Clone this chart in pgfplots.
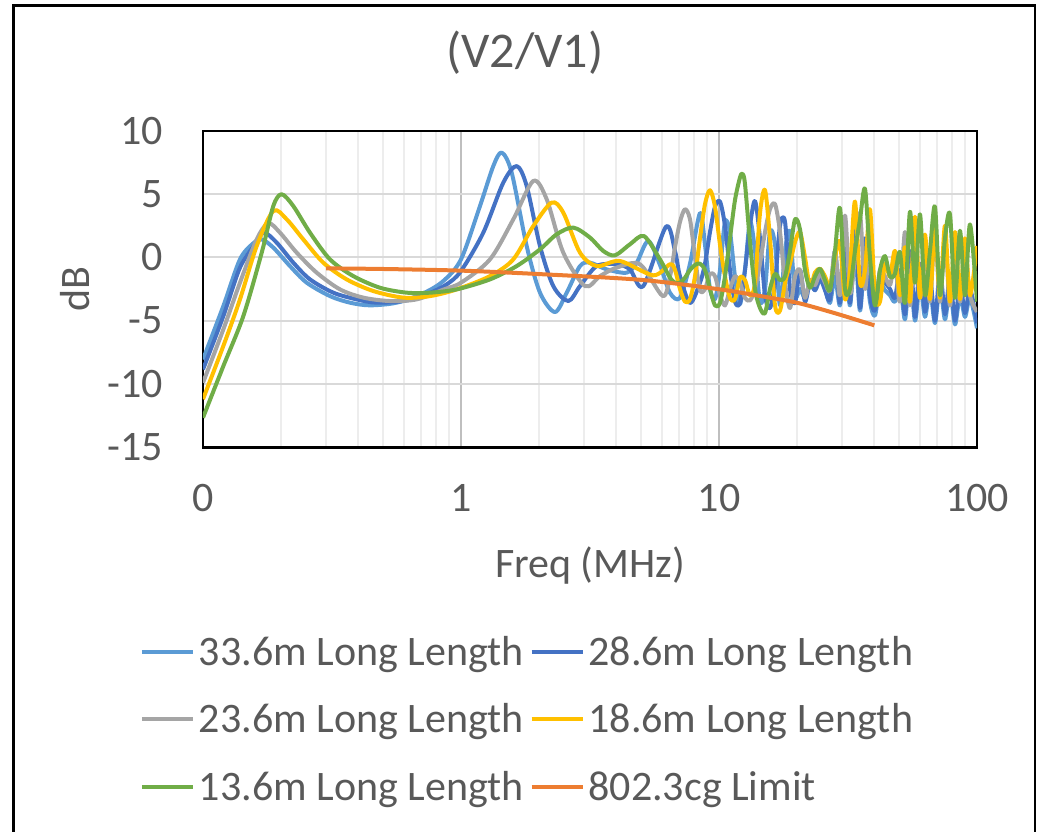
\documentclass[border=0pt]{standalone}
\usepackage{fontspec}
\setmainfont{Carlito}
\usepackage{pgfplots}
\pgfplotsset{compat=1.18}
\definecolor{txtgray}{HTML}{595959}
\definecolor{cA}{HTML}{5B9BD5}
\definecolor{cB}{HTML}{4472C4}
\definecolor{cC}{HTML}{A5A5A5}
\definecolor{cD}{HTML}{FFC000}
\definecolor{cE}{HTML}{70AD47}
\definecolor{cF}{HTML}{ED7D31}
\definecolor{gridmajx}{HTML}{BFBFBF}
\definecolor{gridmajy}{HTML}{D9D9D9}
\definecolor{gridmin}{HTML}{EDEDED}
\begin{document}
\begin{tikzpicture}
\useasboundingbox (0pt,0pt) rectangle (520pt,415.5pt);
\draw[line width=1.2pt] (6.75pt,-5pt) -- (6.75pt,412.75pt) -- (517.5pt,412.75pt) -- (517.5pt,-5pt);
\begin{axis}[
  at={(101.5pt,191.85pt)}, anchor=south west,
  scale only axis, width=387pt, height=158.3pt,
  xmode=log, xmin=0.1, xmax=100, ymin=-15, ymax=10,
  xtick={0.1,1,10,100}, xticklabels={0,1,10,100},
  ytick={-15,-10,-5,0,5,10}, yticklabels={-15,-10,-5,0,5,10},
  xmajorgrids, xminorgrids, ymajorgrids,
  major x grid style={gridmajx, line width=1pt},
  minor x grid style={gridmin, line width=1pt},
  major y grid style={gridmajy, line width=1pt},
  axis line style={black, line width=1.2pt},
  major tick length=0pt, minor tick length=0pt,
  tick label style={font=\fontsize{21}{25}\selectfont, text=txtgray},
  xticklabel style={inner sep=0pt, anchor=north, yshift=-18.5pt},
  yticklabel style={inner sep=0pt, anchor=east, xshift=-20pt},
  xlabel={Freq (MHz)}, ylabel={dB},
  label style={font=\fontsize{21}{25}\selectfont, text=txtgray},
  xlabel style={at={(axis description cs:0.5,-0.3727)}, anchor=center},
  ylabel style={at={(axis description cs:-0.1654,0.5)}, anchor=center},
  title={(V2/V1)},
  title style={at={(axis description cs:0.416,1.2075)}, anchor=center, font=\fontsize{25}{30}\selectfont, text=txtgray},
  legend columns=2,
  legend cell align=left,
  legend style={at={(axis description cs:-0.0814,-0.5866)}, anchor=north west, draw=none, fill=none,
    inner sep=0pt, outer sep=0pt, font=\fontsize{21}{25}\selectfont, text=txtgray,
    row sep=14.95pt,
    nodes={inner sep=0pt, text height=16pt, text depth=2.8pt},
    /tikz/every odd column/.style={column sep=2pt},
    /tikz/every even column/.style={column sep=3pt}},
  legend image code/.code={\draw[#1, line width=2pt] (0pt,0pt) -- (25.5pt,0pt);},
  every axis plot/.append style={line width=2pt, line join=round, mark=none, smooth},
]
\addplot[cA] coordinates {(0.1,-8.06) (0.1199,-3.85) (0.1391,-0.16) (0.1567,1.11) (0.1689,1.42) (0.1873,0.77) (0.2174,-0.69) (0.2523,-2.0) (0.3106,-3.06) (0.3714,-3.58) (0.4439,-3.79) (0.563,-3.58) (0.7142,-2.84) (0.8539,-1.87) (1.0,-0.16) (1.1846,4.05) (1.3344,7.21) (1.4381,8.27) (1.5722,6.69) (1.7974,0.89) (2.024,-2.79) (2.3136,-4.32) (2.5683,-2.79) (2.8925,-0.69) (3.1623,-0.42) (3.6708,-0.95) (4.3865,-1.21) (4.7974,-0.42) (5.3213,1.29) (5.9046,-0.6) (6.4571,-2.8) (7.0616,-3.2) (7.7206,-0.5)
(8.44,3.5) (8.825,1.0) (9.229,-2.5) (9.65,-3.3) (10.09,-1.0) (10.55,2.8) (11.03,2.0) (11.53,-1.5) (12.06,-3.7) (12.61,-1.0) (13.19,2.8) (13.79,0.5) (14.42,-3.5) (15.08,-2.5) (15.76,2.0) (16.49,1.0) (17.24,-3.8) (18.03,0.5) (18.85,2.0) (19.71,-3.0) (20.61,-2.5) (21.54,-3.2) (22.53,-2.0) (23.56,-2.6) (24.63,-1.8) (25.76,-2.5) (26.93,-3.6) (28.16,-1.5) (29.44,-3.8) (30.79,0.0) (32.19,-3.8) (33.66,0.5) (35.2,-4.2) (36.81,0.0) (38.48,-3.5) (40.24,-4.6) (42.07,-2.2) (43.99,-2.6) (46.0,-3.0) (48.1,-3.5) (50.29,-2.0) (52.59,-4.9) (54.99,-1.2) (57.5,-5.0) (60.12,-2.0) (62.86,-4.7) (65.73,-2.5) (68.73,-5.2) (71.87,-2.2) (75.15,-4.9) (78.58,-2.5) (82.16,-5.3) (85.91,-3.0) (89.83,-4.7) (93.95,-3.2) (100,-5.6)};
\addlegendentry{33.6m Long Length}
\addplot[cB] coordinates {(0.1,-8.85) (0.1199,-4.64) (0.1391,-0.81) (0.1591,1.03) (0.1724,1.95) (0.1931,1.16) (0.2239,-0.42) (0.2598,-1.74) (0.32,-2.79) (0.3942,-3.32) (0.4712,-3.58) (0.5975,-3.45) (0.7363,-2.92) (0.8804,-2.13) (1.0,-1.08) (1.2201,1.95) (1.4588,5.9) (1.644,7.21) (1.7974,5.63) (2.024,0.89) (2.279,-2.27) (2.6054,-3.45) (2.8925,-2.27) (3.3573,-0.69) (4.0132,-0.55) (4.5186,-0.95) (5.0884,-2.27) (6.2325,2.42) (6.7528,0.5) (7.0616,-1.5) (7.7206,-3.6)
(8.44,-2.0) (8.825,-0.5) (9.229,2.0) (9.65,4.0) (10.09,4.4) (10.55,2.5) (11.03,-1.0) (11.53,-3.5) (12.06,-3.6) (12.61,-1.0) (13.19,2.5) (13.79,4.45) (14.42,1.5) (15.08,-3.0) (15.76,-4.0) (16.49,-2.0) (17.24,2.5) (18.03,2.8) (18.85,-2.5) (19.71,-3.6) (20.61,-1.0) (21.54,-3.5) (22.53,-2.0) (23.56,-2.6) (24.63,-1.6) (25.76,-2.6) (26.93,-3.3) (28.16,0.5) (29.44,-3.6) (30.79,2.0) (32.19,-3.6) (33.66,2.5) (35.2,-4.0) (36.81,1.5) (38.48,-3.0) (40.24,-4.2) (42.07,-1.5) (43.99,-2.0) (46.0,-2.5) (48.1,-3.2) (50.29,-1.0) (52.59,-4.5) (54.99,0.5) (57.5,-4.7) (60.12,-0.5) (62.86,-4.3) (65.73,-1.5) (68.73,-5.0) (71.87,-1.0) (75.15,-4.5) (78.58,-1.5) (82.16,-5.0) (85.91,-2.0) (89.83,-4.4) (93.95,-2.5) (100,-5.2)};
\addlegendentry{28.6m Long Length}
\addplot[cC] coordinates {(0.1,-9.9) (0.1199,-5.69) (0.1391,-2.0) (0.1615,1.42) (0.1791,2.69) (0.1988,1.95) (0.2308,0.37) (0.2759,-1.21) (0.3397,-2.53) (0.4181,-3.18) (0.5305,-3.45) (0.6735,-3.32) (0.8539,-2.55) (1.0,-2.0) (1.2954,-0.16) (1.5948,3.0) (1.9065,6.03) (2.1491,4.58) (2.4917,0.37) (3.0246,-2.27) (3.4584,-1.48) (4.0132,-0.81) (4.9408,-0.55) (6.0517,-3.05) (6.4571,-1.5) (6.7528,0.8) (7.0616,2.8) (7.3838,3.8) (7.7206,3.0) (8.0734,0.0)
(8.44,-2.6) (8.825,-2.5) (9.229,-1.3) (9.65,-1.5) (10.09,-3.0) (10.55,-3.8) (11.03,-2.5) (11.53,-1.5) (12.06,-2.0) (12.61,-3.2) (13.19,-3.4) (13.79,-2.5) (14.42,-0.5) (15.08,2.0) (15.76,3.8) (16.49,4.2) (17.24,2.0) (18.03,-2.0) (18.85,-4.0) (19.71,-1.5) (20.61,-1.0) (21.54,-3.2) (22.53,-1.8) (23.56,-2.2) (24.63,-1.3) (25.76,-2.0) (26.93,-2.6) (28.16,0.5) (29.44,-3.0) (30.79,3.3) (32.19,-2.8) (33.66,0.0) (35.2,3.5) (36.81,-2.5) (38.48,1.5) (40.24,-3.5) (42.07,-1.0) (43.99,-1.5) (46.0,-2.2) (48.1,-0.5) (50.29,-3.5) (52.59,2.0) (54.99,-3.8) (57.5,1.5) (60.12,-3.2) (62.86,1.0) (65.73,-3.5) (68.73,2.0) (71.87,-3.5) (75.15,1.5) (78.58,-3.8) (82.16,0.8) (85.91,-3.5) (89.83,0.5) (93.95,-3.0) (100,-4.3)};
\addlegendentry{23.6m Long Length}
\addplot[cD] coordinates {(0.1,-11.2) (0.1199,-7.0) (0.1391,-3.32) (0.1615,0.89) (0.1873,3.66) (0.2111,3.0) (0.2447,1.42) (0.2926,-0.42) (0.3605,-1.74) (0.4572,-2.66) (0.5975,-3.18) (0.7584,-3.06) (0.9623,-2.53) (1.2954,-1.48) (1.5948,-0.16) (1.9065,2.47) (2.2468,4.32) (2.4917,3.53) (2.8925,0.37) (3.3573,-0.69) (4.1331,-0.29) (5.5654,-1.42) (6.4571,-0.55) (6.7528,-1.0) (7.0616,-2.5) (7.3838,-3.5) (7.7206,-3.3) (8.0734,-1.5)
(8.44,1.5) (8.825,4.2) (9.229,5.3) (9.65,4.0) (10.09,1.0) (10.55,-1.5) (11.03,-3.2) (11.53,-3.3) (12.06,-1.6) (12.61,-1.8) (13.19,-3.0) (13.79,-2.0) (14.42,3.5) (15.08,5.3) (15.76,1.5) (16.49,-3.8) (17.24,-4.2) (18.03,-2.0) (18.85,-0.5) (19.71,1.2) (20.61,2.0) (21.54,0.0) (22.53,-2.3) (23.56,-1.2) (24.63,-0.9) (25.76,-1.5) (26.93,-2.3) (28.16,0.0) (29.44,1.2) (30.79,-3.3) (32.19,-1.0) (33.66,4.4) (35.2,-2.0) (36.81,-1.0) (38.48,3.8) (40.24,-3.0) (42.07,-3.5) (43.99,-0.5) (46.0,-1.5) (48.1,0.5) (50.29,-3.0) (52.59,0.8) (54.99,-3.5) (57.5,3.2) (60.12,-3.2) (62.86,1.8) (65.73,-3.3) (68.73,2.5) (71.87,-3.2) (75.15,2.5) (78.58,-3.5) (82.16,2.0) (85.91,-3.3) (89.83,1.5) (93.95,-3.0) (100,0.9)};
\addlegendentry{18.6m Long Length}
\addplot[cE] coordinates {(0.1,-12.66) (0.1199,-8.59) (0.1433,-4.64) (0.1689,0.37) (0.1873,4.05) (0.2018,4.98) (0.2239,4.05) (0.2598,1.95) (0.3106,-0.16) (0.3824,-1.48) (0.4854,-2.4) (0.616,-2.79) (0.7584,-2.79) (0.9623,-2.53) (1.2954,-1.74) (1.644,-0.69) (2.024,0.63) (2.3491,1.82) (2.724,2.35) (3.1623,1.56) (3.561,0.5) (3.9528,0.16) (4.5186,1.03) (5.1205,1.68) (5.9046,-0.16) (6.4571,-1.6) (6.7528,-2.0) (7.0616,-2.0) (7.3838,-1.6) (7.7206,-1.0) (8.0734,-0.6)
(8.44,-0.5) (8.825,-1.0) (9.229,-2.5) (9.65,-3.8) (10.09,-3.6) (10.55,-1.5) (11.03,1.5) (11.53,4.5) (12.06,6.3) (12.33,6.6) (12.61,5.8) (13.19,1.2) (13.79,-2.5) (14.42,-4.0) (15.08,-4.4) (15.76,-2.5) (16.49,-1.3) (17.24,-1.8) (18.03,-1.5) (18.85,0.5) (19.71,3.0) (20.61,2.2) (21.54,-1.0) (22.53,-2.4) (23.56,-1.5) (24.63,-0.9) (25.76,-1.8) (26.93,-2.6) (28.16,0.5) (29.44,3.9) (30.79,-2.5) (32.19,-2.5) (33.66,0.5) (35.2,3.0) (36.81,5.4) (38.48,0.0) (40.24,-3.8) (42.07,-1.0) (43.99,0.1) (46.0,-1.5) (48.1,-1.3) (50.29,0.4) (52.59,-3.6) (54.99,3.6) (57.5,-2.0) (60.12,3.4) (62.86,-3.0) (65.73,0.5) (68.73,4.0) (71.87,-3.0) (75.15,1.5) (78.58,3.4) (82.16,-3.2) (85.91,2.1) (89.83,-3.0) (93.95,2.6) (100,-3.5)};
\addlegendentry{13.6m Long Length}
\addplot[cF] coordinates {(0.3,-0.87) (0.5,-0.92) (1,-1.05) (2,-1.32) (5,-1.78) (10,-2.52) (14.4,-3.05) (20,-3.58) (27.7,-4.37) (40,-5.37)};
\addlegendentry{802.3cg Limit}
\end{axis}
\end{tikzpicture}
\end{document}
